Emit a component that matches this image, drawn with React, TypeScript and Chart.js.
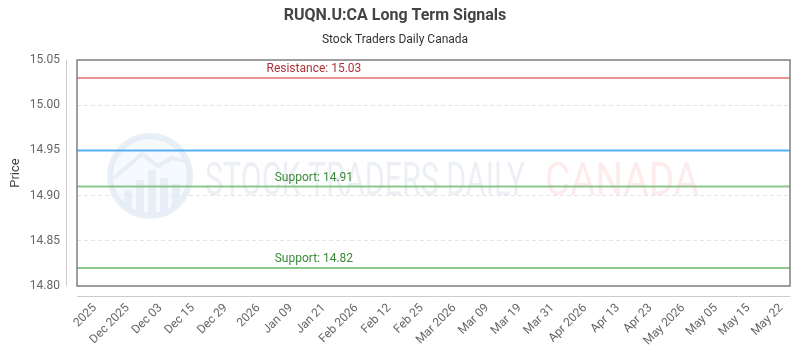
import React, { useEffect, useRef } from "react";
import { Chart, registerables } from "chart.js";

Chart.register(...registerables);

const TITLE = "RUQN.U:CA Long Term Signals";
const SUBTITLE = "Stock Traders Daily Canada";
const Y_TITLE = "Price";

const TICK_LABELS = [
  "2025", "Dec 2025", "Dec 03", "Dec 15", "Dec 29", "2026", "Jan 09", "Jan 21",
  "Feb 2026", "Feb 12", "Feb 25", "Mar 2026", "Mar 09", "Mar 19", "Mar 31",
  "Apr 2026", "Apr 13", "Apr 23", "May 2026", "May 05", "May 15", "May 22",
];
const Y_TICKS = [14.8, 14.85, 14.9, 14.95, 15.0, 15.05];

// x extent of the level lines (in tick-index units)
const X_RANGE = [-0.55, 21.27];
const PRICE_LEVEL = [14.95, 14.95];
const RESISTANCE = [15.03, 15.03];
const SUPPORT_1 = [14.91, 14.91];
const SUPPORT_2 = [14.82, 14.82];

const LEVEL_LABEL_X = 6.7;
const LEVEL_LABELS = [
  { text: "Resistance: 15.03", value: 15.03, color: "#b0323a" },
  { text: "Support: 14.91", value: 14.91, color: "#3a8a3a" },
  { text: "Support: 14.82", value: 14.82, color: "#3a8a3a" },
];

const FONT = "Roboto, 'Open Sans', sans-serif";

const frame = {
  id: "frame",
  beforeDatasetsDraw(chart: any) {
    const { ctx, chartArea: ca } = chart;
    ctx.save();
    // watermark logo
    const cx = ca.left + 73;
    const cy = ca.top + 116;
    const r = 40;
    ctx.beginPath();
    ctx.arc(cx, cy, r, 0, Math.PI * 2);
    ctx.fillStyle = "rgba(240,245,251,0.6)";
    ctx.fill();
    ctx.lineWidth = 6;
    ctx.strokeStyle = "rgba(222,232,244,0.7)";
    ctx.stroke();
    ctx.save();
    ctx.beginPath();
    ctx.arc(cx, cy, r - 3, 0, Math.PI * 2);
    ctx.clip();
    ctx.fillStyle = "rgba(222,230,242,0.6)";
    const bars = [[-26, 14], [-14, 4], [-2, -6], [10, 2], [22, 8]];
    for (const [dx, top] of bars) {
      ctx.fillRect(cx + dx, cy + top, 8, 45);
    }
    ctx.beginPath();
    ctx.moveTo(cx - 36, cy + 2);
    ctx.lineTo(cx - 8, cy - 22);
    ctx.lineTo(cx + 8, cy - 10);
    ctx.lineTo(cx + 22, cy - 18);
    ctx.lineTo(cx + 38, cy - 14);
    ctx.lineWidth = 4;
    ctx.strokeStyle = "rgba(222,230,242,0.6)";
    ctx.stroke();
    ctx.restore();
    // watermark text
    ctx.textBaseline = "alphabetic";
    ctx.textAlign = "left";
    ctx.font = `46px ${FONT}`;
    ctx.fillStyle = "rgba(228,234,241,0.7)";
    ctx.fillText("STOCK TRADERS DAILY", ca.left + 128, ca.top + 135, 320);
    ctx.fillStyle = "rgba(253,226,226,0.7)";
    ctx.fillText("CANADA", ca.left + 468, ca.top + 135, 154);
    ctx.restore();
  },
  afterDatasetsDraw(chart: any) {
    const { ctx, chartArea: ca, scales } = chart;
    ctx.save();
    // level labels
    ctx.font = `12px ${FONT}`;
    ctx.textAlign = "center";
    ctx.textBaseline = "middle";
    for (const l of LEVEL_LABELS) {
      ctx.fillStyle = l.color;
      ctx.fillText(l.text, scales.x.getPixelForValue(LEVEL_LABEL_X), scales.y.getPixelForValue(l.value) - 9);
    }
    // plot frame
    ctx.strokeStyle = "#808080";
    ctx.lineWidth = 1.5;
    ctx.strokeRect(ca.left, ca.top, ca.right - ca.left, ca.bottom - ca.top);
    // offset axis lines
    ctx.strokeStyle = "#cccccc";
    ctx.lineWidth = 1;
    ctx.beginPath();
    ctx.moveTo(ca.left - 10.5, ca.top);
    ctx.lineTo(ca.left - 10.5, ca.bottom);
    ctx.moveTo(ca.left, ca.bottom + 10.5);
    ctx.lineTo(ca.right, ca.bottom + 10.5);
    ctx.stroke();
    ctx.restore();
  },
};

function levelData(ys: number[]) {
  return X_RANGE.map((x, i) => ({ x, y: ys[i] }));
}

export default function App() {
  const ref = useRef<HTMLCanvasElement>(null);
  useEffect(() => {
    if (!ref.current) return;
    const lineDs = (label: string, ys: number[], color: string, extra: any = {}) => ({
      label,
      data: levelData(ys),
      borderColor: color,
      backgroundColor: color,
      borderWidth: 2,
      pointRadius: 0,
      fill: false,
      ...extra,
    });
    const chart = new Chart(ref.current, {
      type: "line",
      data: {
        datasets: [
          lineDs("Resistance", RESISTANCE, "rgba(226,120,124,0.8)"),
          lineDs("Price", PRICE_LEVEL, "rgba(70,168,242,0.9)"),
          lineDs("Support 1", SUPPORT_1, "rgba(120,190,120,0.85)"),
          lineDs("Support 2", SUPPORT_2, "rgba(120,190,120,0.85)"),
        ],
      },
      options: {
        animation: false,
        responsive: true,
        maintainAspectRatio: false,
        layout: { padding: { left: 0, right: 10, top: 0, bottom: 0 } },
        plugins: {
          legend: { display: false },
          tooltip: { enabled: false },
          title: {
            display: true,
            text: TITLE,
            color: "#444",
            font: { family: FONT, size: 16, weight: "bold" },
            padding: { top: 6, bottom: 6 },
          },
          subtitle: {
            display: true,
            text: SUBTITLE,
            color: "#333",
            font: { family: FONT, size: 12 },
            padding: { top: 1.6, bottom: 12.8 },
          },
        },
        scales: {
          x: {
            type: "linear",
            min: X_RANGE[0],
            max: X_RANGE[1],
            grid: { display: false },
            border: { display: false },
            afterBuildTicks: (s: any) => {
              s.ticks = TICK_LABELS.map((_, i) => ({ value: i }));
            },
            afterFit: (s: any) => {
              s.height = 64;
            },
            ticks: {
              autoSkip: false,
              maxRotation: 45,
              minRotation: 45,
              padding: 7,
              color: "#666",
              font: { family: FONT, size: 12 },
              callback: (v: any) => TICK_LABELS[v] ?? "",
            },
          },
          y: {
            type: "linear",
            min: 14.8,
            max: 15.05,
            afterBuildTicks: (s: any) => {
              s.ticks = Y_TICKS.map((v) => ({ value: v }));
            },
            afterFit: (s: any) => {
              s.width = 77;
            },
            grid: { color: "#e4e4e4", drawTicks: false },
            border: { display: false, dash: [4, 3] },
            title: {
              display: true,
              text: Y_TITLE,
              color: "#444",
              font: { family: FONT, size: 13 },
              padding: { top: 8, bottom: 0 },
            },
            ticks: {
              padding: 17,
              color: "#666",
              font: { family: FONT, size: 12 },
              callback: (v: any) => Number(v).toFixed(2),
            },
          },
        },
      },
      plugins: [frame],
    });
    return () => chart.destroy();
  }, []);
  return (
    <div style={{ position: "fixed", left: 0, top: 0, width: 800, height: 350, background: "#fff" }}>
      <canvas ref={ref} />
    </div>
  );
}
